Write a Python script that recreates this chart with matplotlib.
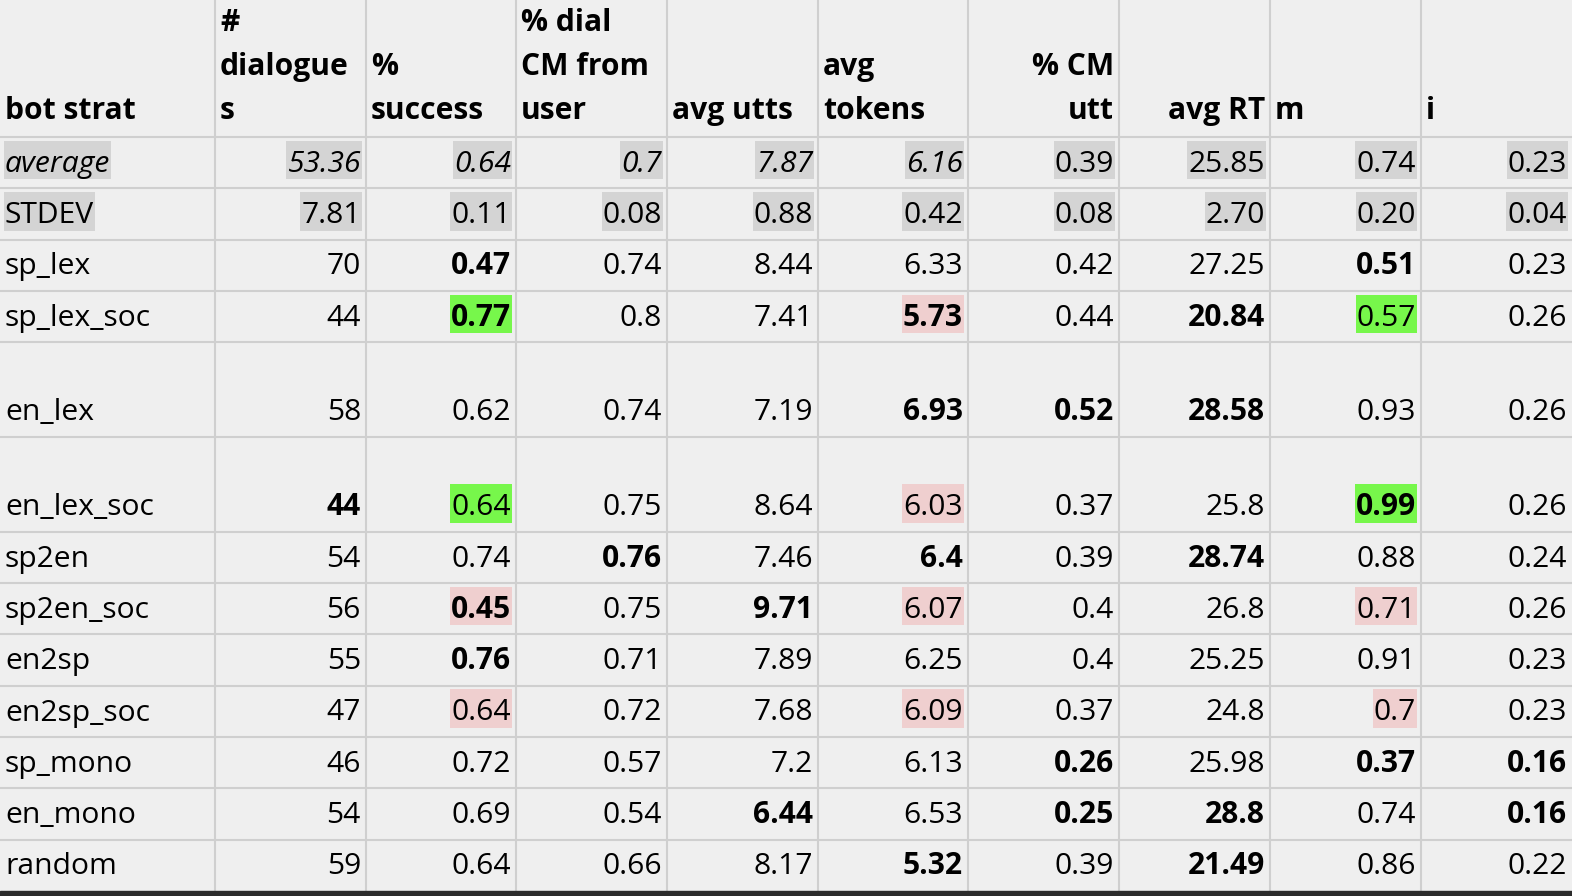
import matplotlib
matplotlib.use("Agg")
from matplotlib import pyplot as plt
from matplotlib import font_manager
from matplotlib.patches import Rectangle
import numpy as np
import os

# pick the first family that really has a bold face
family = "DejaVu Sans"
for fam in ["Noto Sans", "Open Sans", "Lato", "Roboto", "Liberation Sans"]:
    try:
        reg = font_manager.findfont(font_manager.FontProperties(family=fam), fallback_to_default=False)
        bld = font_manager.findfont(font_manager.FontProperties(family=fam, weight="bold"), fallback_to_default=False)
    except Exception:
        continue
    if "bold" in os.path.basename(bld).lower() and reg != bld:
        family = fam
        break
plt.rcParams['font.family'] = [family, 'DejaVu Sans']

# header text, one list of lines per column
headers = [
    ["bot strat"],
    ["#", "dialogue", "s"],
    ["%", "success"],
    ["% dial", "CM from", "user"],
    ["avg utts"],
    ["avg", "tokens"],
    ["% CM", "utt"],
    ["avg RT"],
    ["m"],
    ["i"],
]
header_align = ["left", "left", "left", "left", "left", "left", "right", "right", "left", "left"]

bot_strat = ["average", "STDEV", "sp_lex", "sp_lex_soc", "en_lex", "en_lex_soc", "sp2en",
             "sp2en_soc", "en2sp", "en2sp_soc", "sp_mono", "en_mono", "random"]
n_dialogues = ["53.36", "7.81", "70", "44", "58", "44", "54", "56", "55", "47", "46", "54", "59"]
pct_success = ["0.64", "0.11", "0.47", "0.77", "0.62", "0.64", "0.74", "0.45", "0.76", "0.64", "0.72", "0.69", "0.64"]
pct_dial_cm = ["0.7", "0.08", "0.74", "0.8", "0.74", "0.75", "0.76", "0.75", "0.71", "0.72", "0.57", "0.54", "0.66"]
avg_utts = ["7.87", "0.88", "8.44", "7.41", "7.19", "8.64", "7.46", "9.71", "7.89", "7.68", "7.2", "6.44", "8.17"]
avg_tokens = ["6.16", "0.42", "6.33", "5.73", "6.93", "6.03", "6.4", "6.07", "6.25", "6.09", "6.13", "6.53", "5.32"]
pct_cm_utt = ["0.39", "0.08", "0.42", "0.44", "0.52", "0.37", "0.39", "0.4", "0.4", "0.37", "0.26", "0.25", "0.39"]
avg_rt = ["25.85", "2.70", "27.25", "20.84", "28.58", "25.8", "28.74", "26.8", "25.25", "24.8", "25.98", "28.8", "21.49"]
m_vals = ["0.74", "0.20", "0.51", "0.57", "0.93", "0.99", "0.88", "0.71", "0.91", "0.7", "0.37", "0.74", "0.86"]
i_vals = ["0.23", "0.04", "0.23", "0.26", "0.26", "0.26", "0.24", "0.26", "0.23", "0.23", "0.16", "0.16", "0.22"]

table = [bot_strat, n_dialogues, pct_success, pct_dial_cm, avg_utts, avg_tokens,
         pct_cm_utt, avg_rt, m_vals, i_vals]

# (row, col) of bold cells
bold_cells = [(2, 2), (2, 8),
              (3, 2), (3, 5), (3, 7),
              (4, 5), (4, 6), (4, 7),
              (5, 1), (5, 8),
              (6, 3), (6, 5), (6, 7),
              (7, 2), (7, 4),
              (8, 2),
              (10, 6), (10, 8), (10, 9),
              (11, 4), (11, 6), (11, 7), (11, 9),
              (12, 5), (12, 7)]
italic_cells = [(0, c) for c in range(6)]
green_cells = [(3, 2), (3, 8), (5, 2), (5, 8)]
pink_cells = [(3, 5), (5, 5), (7, 2), (7, 5), (7, 8), (9, 2), (9, 5), (9, 8)]
gray_cells = [(r, c) for r in range(2) for c in range(10)]

bg = "#efefef"
grid_col = "#cfcfcf"
fs = 21.6

col_edges = [0, 215, 366, 516, 667, 818, 968, 1119, 1270, 1421, 1572]
row_heights = [51.3, 51.3, 51.3, 51.3, 94.8, 94.8, 51.3, 51.3, 51.3, 51.3, 51.3, 51.3, 51.3]
row_edges = np.concatenate([[0, 137], 137 + np.cumsum(row_heights)])

fig = plt.figure(figsize=(15.72, 8.96), dpi=100, facecolor=bg)
ax = fig.add_axes([0, 0, 1, 1])
ax.set_xlim(0, 1572)
ax.set_ylim(896, 0)
ax.axis("off")
ax.set_facecolor(bg)

# grid
for x in col_edges[1:-1]:
    ax.plot([x, x], [0, row_edges[-1]], color=grid_col, lw=1.5, zorder=1)
for y in row_edges[1:-1]:
    ax.plot([0, 1572], [y, y], color=grid_col, lw=1.5, zorder=1)
ax.add_patch(Rectangle((0, row_edges[-1]), 1572, 10, color="#2b2b2b", zorder=1))

pad = 5
# header
for c, lines in enumerate(headers):
    base = row_edges[1] - 18
    for k, line in enumerate(reversed(lines)):
        if header_align[c] == "left":
            x, ha = col_edges[c] + pad, "left"
        else:
            x, ha = col_edges[c + 1] - pad, "right"
        ax.text(x, base - 44 * k, line, ha=ha, va="baseline", fontsize=fs,
                fontweight="bold", color="black", zorder=3)

# body
texts = {}
for r in range(len(bot_strat)):
    base = row_edges[r + 2] - 16.5
    for c, col in enumerate(table):
        if c == 0:
            x, ha = col_edges[c] + pad, "left"
        else:
            x, ha = col_edges[c + 1] - pad, "right"
        t = ax.text(x, base, col[r], ha=ha, va="baseline", fontsize=fs,
                    fontweight="bold" if (r, c) in bold_cells else "normal",
                    fontstyle="italic" if (r, c) in italic_cells else "normal",
                    color="black", zorder=3)
        texts[(r, c)] = (t, base)

fig.canvas.draw()
renderer = fig.canvas.get_renderer()
inv = ax.transData.inverted()
for cells, colr in [(gray_cells, "#d4d4d4"), (green_cells, "#77f74b"), (pink_cells, "#efcfcf")]:
    for cell in cells:
        t, base = texts[cell]
        bb = t.get_window_extent(renderer)
        x0 = inv.transform((bb.x0, bb.y0))[0]
        x1 = inv.transform((bb.x1, bb.y0))[0]
        ax.add_patch(Rectangle((x0 - 1, base - 31), x1 - x0 + 2, 38.5, color=colr, lw=0, zorder=2))

fig.savefig("out.png", dpi=100, facecolor=bg)
